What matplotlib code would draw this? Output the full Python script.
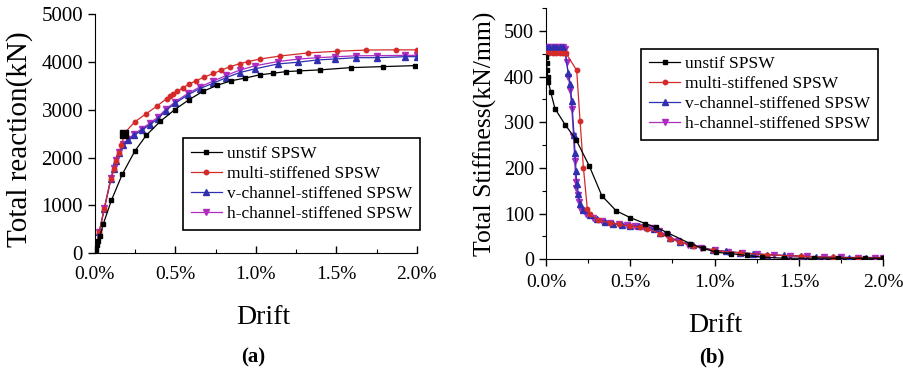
import matplotlib
matplotlib.use("Agg")
import matplotlib.pyplot as plt
from matplotlib.ticker import MultipleLocator

plt.rcParams["font.family"] = ["Liberation Serif", "DejaVu Serif"]

# drift in percent
drift_ticks = [0.0, 0.5, 1.0, 1.5, 2.0]
drift_labels = ["0.0%", "0.5%", "1.0%", "1.5%", "2.0%"]
names = ["unstif SPSW", "multi-stiffened SPSW",
         "v-channel-stiffened SPSW", "h-channel-stiffened SPSW"]

# (a) total reaction (kN)
unstif_x = [0, 0.005, 0.01, 0.02, 0.031, 0.052, 0.103, 0.17, 0.248, 0.32, 0.407,
            0.496, 0.585, 0.67, 0.757, 0.844, 0.93, 1.023, 1.106, 1.19, 1.27,
            1.396, 1.59, 1.79, 1.99]
unstif_y = [0, 70, 180, 250, 354, 611, 1110, 1650, 2136, 2470, 2760, 3003, 3212,
            3384, 3509, 3606, 3661, 3731, 3765, 3800, 3814, 3835, 3883, 3904, 3925]
odd_point_x = [0.18]
odd_point_y = [2500]

multi_x = [0, 0.027, 0.058, 0.099, 0.118, 0.13, 0.149, 0.165, 0.185, 0.248, 0.316,
           0.383, 0.445, 0.465, 0.486, 0.513, 0.548, 0.585, 0.63, 0.676, 0.736,
           0.786, 0.837, 0.90, 0.95, 1.028, 1.148, 1.323, 1.503, 1.685, 1.87, 2.0]
multi_y = [0, 437, 923, 1547, 1755, 1928, 2100, 2260, 2520, 2746, 2912, 3072, 3232,
           3280, 3330, 3395, 3460, 3540, 3610, 3680, 3760, 3830, 3900, 3965, 4008,
           4064, 4125, 4190, 4225, 4251, 4255, 4255]

chan_x = [0, 0.027, 0.058, 0.099, 0.118, 0.13, 0.149, 0.176, 0.207, 0.244, 0.29,
          0.341, 0.393, 0.44, 0.50, 0.579, 0.65, 0.734, 0.817, 0.90, 0.993, 1.137,
          1.26, 1.38, 1.495, 1.62, 1.75, 1.93, 2.0]
v_y = [0, 437, 923, 1547, 1755, 1928, 2100, 2260, 2360, 2465, 2570, 2690, 2815,
       2985, 3141, 3315, 3440, 3557, 3675, 3779, 3856, 3960, 3995, 4043, 4064,
       4091, 4091, 4112, 4112]
h_y = [0, 450, 940, 1570, 1780, 1950, 2120, 2290, 2390, 2490, 2600, 2720, 2850,
       3010, 3170, 3345, 3475, 3600, 3720, 3830, 3920, 4010, 4060, 4090, 4110,
       4130, 4133, 4140, 4140]

# (b) total stiffness (kN/mm)
unstif_k_x = [0, 0.003, 0.006, 0.01, 0.014, 0.028, 0.053, 0.113, 0.178, 0.257,
              0.331, 0.416, 0.499, 0.588, 0.65, 0.72, 0.855, 0.93, 1.01, 1.10,
              1.19, 1.28, 1.41, 1.59, 1.73, 1.89, 2.0]
unstif_k_y = [443, 430, 415, 400, 389, 366, 330, 295, 262, 204, 139, 106, 91, 78,
              70, 58, 34, 24, 15, 12, 8, 4.4, 2, 2, 2, 2, 2]

multi_k_x = [0, 0.02, 0.04, 0.06, 0.08, 0.10, 0.119, 0.182, 0.202, 0.222, 0.245,
             0.261, 0.311, 0.378, 0.43, 0.50, 0.56, 0.60, 0.677, 0.736, 0.795,
             0.874, 0.993, 1.15, 1.31, 1.51, 1.70, 1.85, 2.0]
multi_k_y = [451, 451, 451, 451, 451, 451, 451, 414, 302, 200, 110, 99, 85, 80, 76,
             72, 70, 67, 56, 45, 37, 29, 19, 14, 9.5, 6.6, 3.7, 3, 3]

v_k_x = [0, 0.02, 0.04, 0.06, 0.08, 0.10, 0.113, 0.132, 0.143, 0.153, 0.166,
         0.172, 0.178, 0.182, 0.192, 0.202, 0.222, 0.261, 0.30, 0.35, 0.40, 0.45,
         0.50, 0.55, 0.60, 0.64, 0.677, 0.736, 0.795, 0.874, 0.993, 1.07, 1.15,
         1.23, 1.31, 1.41, 1.51, 1.60, 1.70, 1.80, 1.90, 2.0]
v_k_y = [464, 464, 464, 464, 464, 464, 454, 407, 385, 346, 273, 233, 193, 165, 143,
         121, 107, 96, 88, 82, 78, 75, 73, 72, 70, 66, 58, 46, 38, 30, 20, 17, 14,
         12, 10, 8, 7, 5, 4, 3.5, 3.5, 3.5]

h_k_x = [0, 0.02, 0.04, 0.06, 0.08, 0.10, 0.113, 0.123, 0.133, 0.143, 0.153, 0.163,
         0.17, 0.176, 0.18, 0.187, 0.195, 0.21, 0.24, 0.28, 0.33, 0.38, 0.43, 0.48,
         0.53, 0.58, 0.63, 0.67, 0.72, 0.78, 0.84, 0.92, 1.0, 1.08, 1.16, 1.25,
         1.35, 1.45, 1.55, 1.65, 1.75, 1.85, 1.95, 2.0]
h_k_y = [466, 466, 466, 466, 466, 466, 460, 433, 400, 371, 330, 270, 215, 170, 155,
         140, 125, 108, 98, 90, 84, 80, 77, 75, 73, 71, 68, 62, 52, 40, 32, 24, 19,
         16, 13, 11, 9, 7, 6, 5, 4, 3.5, 3.5, 3.5]

colors = ["black", "#d42a2a", "#2f2fb0", "#b02cc0"]
markers = ["s", "o", "^", "v"]
msizes = [3.2, 3.2, 4.2, 4.2]

fig = plt.figure(figsize=(9.04, 3.75), dpi=100)
ax1 = fig.add_axes([0.105, 0.325, 0.356, 0.637])
ax2 = fig.add_axes([0.604, 0.309, 0.373, 0.669])

series_a = [(unstif_x, unstif_y), (multi_x, multi_y), (chan_x, v_y), (chan_x, h_y)]
series_b = [(unstif_k_x, unstif_k_y), (multi_k_x, multi_k_y),
            (v_k_x, v_k_y), (h_k_x, h_k_y)]

for ax, series in [(ax1, series_a), (ax2, series_b)]:
    for i, (xs, ys) in enumerate(series):
        ax.plot(xs, ys, color=colors[i], marker=markers[i], markersize=msizes[i],
                linewidth=0.9, label=names[i], zorder=3 - 0.1 * i)

ax1.plot(odd_point_x, odd_point_y, "s", color="black", markersize=6, zorder=4)

ax1.set_xlim(0, 2.0)
ax1.set_ylim(0, 5000)
ax1.yaxis.set_major_locator(MultipleLocator(1000))
ax2.set_xlim(0, 2.0)
ax2.set_ylim(0, 550)
ax2.set_yticks([0, 100, 200, 300, 400, 500])
ax2.yaxis.set_minor_locator(MultipleLocator(50))

for ax in (ax1, ax2):
    ax.set_xticks(drift_ticks)
    ax.set_xticklabels(drift_labels)
    ax.xaxis.set_minor_locator(MultipleLocator(0.25))
    ax.spines["top"].set_visible(False)
    ax.spines["right"].set_visible(False)
    ax.tick_params(axis="both", which="major", labelsize=15, length=5, width=1)
    ax.tick_params(axis="both", which="minor", length=3, width=0.8)
    ax.tick_params(axis="x", which="major", labelsize=14, pad=6)
    ax.legend(loc="lower left", fontsize=12.5, frameon=True, fancybox=False,
              edgecolor="black", handlelength=1.8, handletextpad=0.3,
              labelspacing=0.22, borderpad=0.45, borderaxespad=0,
              framealpha=1)
    ax.legend_.get_frame().set_linewidth(1.2)

ax2.tick_params(axis="y", which="major", labelsize=14.5)
ax1.tick_params(axis="x", which="both", direction="in")
ax1.tick_params(axis="x", which="major", pad=9)
ax1.legend_.set_bbox_to_anchor((0.273, 0.096))
ax2.legend_.set_bbox_to_anchor((0.282, 0.474))

ax1.set_ylabel("Total reaction(kN)", fontsize=21)
ax1.yaxis.set_label_coords(-0.193, 0.477)
ax2.set_ylabel("Total Stiffness(kN/mm)", fontsize=18.5)
ax2.yaxis.set_label_coords(-0.145, 0.50)
fig.text(263 / 904, 1 - 318 / 375, "Drift", fontsize=20, ha="center", va="center")
fig.text(715 / 904, 1 - 325 / 375, "Drift", fontsize=20, ha="center", va="center")
fig.text(253 / 904, 1 - 357 / 375, "(a)", fontsize=15, fontweight="bold",
         ha="center", va="center")
fig.text(712 / 904, 1 - 357 / 375, "(b)", fontsize=15, fontweight="bold",
         ha="center", va="center")

fig.savefig("out.png", dpi=100)
